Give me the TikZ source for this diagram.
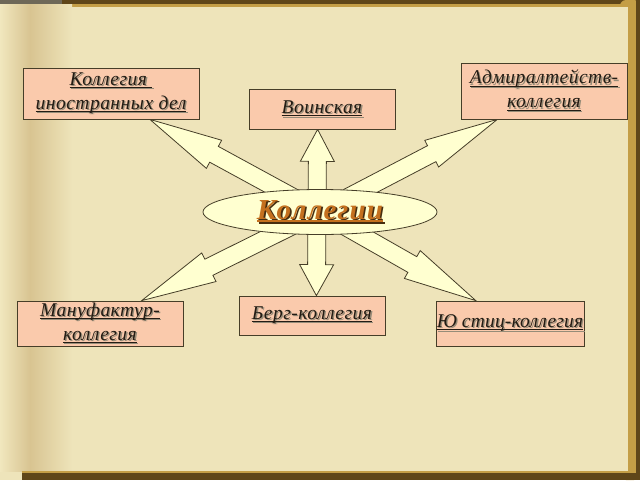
\documentclass[tikz,border=0pt]{standalone}
\usepackage{fontspec}
\setmainfont{Liberation Serif}
\newfontfamily\titlefont[LetterSpace=4]{Liberation Serif}
\newfontfamily\boxfont[LetterSpace=2.5]{Liberation Serif}
\newfontfamily\boxfontn[LetterSpace=1]{Liberation Serif}
\usetikzlibrary{calc,shapes.geometric}
\pgfdeclarelayer{bg}
\pgfdeclarelayer{arr}
\pgfsetlayers{bg,arr,main}
\definecolor{pagec}{RGB}{238,228,186}
\definecolor{leftc}{RGB}{241,231,190}
\definecolor{foldc}{RGB}{216,196,145}
\definecolor{boxc}{RGB}{250,202,172}
\definecolor{arrc}{RGB}{255,255,208}
\definecolor{linec}{RGB}{70,62,40}
\definecolor{txtc}{RGB}{35,28,20}
\definecolor{shc}{RGB}{150,140,120}
\definecolor{titc}{RGB}{196,112,30}
\definecolor{titsh}{RGB}{70,45,15}
\definecolor{darkb}{RGB}{95,70,25}
\definecolor{goldb}{RGB}{196,158,70}
\definecolor{grayb}{RGB}{110,104,88}
\newcommand{\ulx}[2][1pt]{\setbox0=\hbox{#2}\rlap{\rule[-3pt]{\wd0}{#1}}\box0}
\newcommand{\shd}[1]{\rlap{\kern1.3pt\raisebox{-1.3pt}{\color{shc}\ulx{#1}}}{\color{txtc}\ulx{#1}}}
\newcommand{\tshd}[1]{\rlap{\kern1.6pt\raisebox{-1.6pt}{\color{titsh}\ulx[1.8pt]{#1}}}{\color{titc}\ulx[1.8pt]{#1}}}
\newcommand{\barrow}[4]{%
  \coordinate (hb) at ($(#2)!#3!(#1)$);
  \draw[arrsty] ($(#1)!9pt!90:(#2)$) -- ($(hb)!9pt!90:(#2)$) -- ($(hb)!#4!90:(#2)$) -- (#2)
    -- ($(hb)!#4!-90:(#2)$) -- ($(hb)!9pt!-90:(#2)$) -- ($(#1)!9pt!-90:(#2)$) -- cycle;}
\tikzset{
  box/.style={draw=linec, fill=boxc, line width=0.8pt, inner sep=0pt, align=center,
    font=\boxfont\fontsize{19.5}{24}\selectfont\itshape},
  arrsty/.style={draw=linec, fill=arrc, line width=0.8pt, line join=miter},
}
\begin{document}
\begin{tikzpicture}[x=1pt,y=-1pt]
\useasboundingbox (0,0) rectangle (640,480);
\begin{pgfonlayer}{bg}
  \fill[pagec] (0,0) rectangle (640,480);
  \fill[grayb] (0,0) rectangle (62,4);
  \fill[darkb] (62,0) rectangle (640,4);
  \fill[goldb] (62,4) rectangle (628,7);
  \fill[goldb, rounded corners=6pt] (620,0) rectangle (640,480);
  \fill[darkb] (636,0) rectangle (640,480);
  \fill[pagec] (0,7) rectangle (628,471);
  \shade[left color=leftc, right color=foldc] (0,4) rectangle (30,471);
  \shade[left color=foldc, right color=pagec] (30,4) rectangle (72,471);
  \fill[goldb] (22,471) rectangle (630,473);
  \fill[darkb] (22,473) rectangle (636,480);
\end{pgfonlayer}

\node[box, minimum width=176pt, minimum height=51pt] (A) at (111,93.5) {\shd{Коллегия\ }\\\shd{иностранных дел}};
\node[box, minimum width=146pt, minimum height=40pt] (B) at (322,109) {\shd{Воинская}};
\node[box, minimum width=166pt, minimum height=56pt] (C) at (544,91) {\shd{Адмиралтейств-}\\\shd{коллегия}};
\node[box, minimum width=166pt, minimum height=45pt] (D) at (100,323.5) {\shd{Мануфактур-}\\\shd{коллегия}};
\node[box, minimum width=146pt, minimum height=39pt] (E) at (312,315.5) {\shd{Берг-коллегия}};
\node[box, minimum width=148pt, minimum height=45pt, font=\boxfontn\fontsize{19.5}{24}\selectfont\itshape]
  (F) at (510,323.5) {\shd{Ю стиц-коллегия}};

\node[ellipse, draw=linec, fill=arrc, line width=0.8pt, minimum width=234pt, minimum height=45pt, inner sep=0pt]
  (K) at (320,212) {\titlefont\fontsize{29}{32}\selectfont\bfseries\itshape\tshd{Коллегии}};

\coordinate (O) at (320,212);
\coordinate (Ov) at (317,212);
\coordinate (tA) at ($(A.south west)!0.72!(A.south east)$);
\coordinate (tB) at ($(B.south west)!0.47!(B.south east)$);
\coordinate (tC) at ($(C.south west)!0.22!(C.south east)$);
\coordinate (tD) at ($(D.north west)!0.75!(D.north east)$);
\coordinate (tE) at ($(E.north west)!0.53!(E.north east)$);
\coordinate (tF) at ($(F.north west)!0.27!(F.north east)$);

\begin{pgfonlayer}{arr}
  \barrow{O}{tA}{73pt}{16pt}
  \barrow{O}{tC}{74pt}{15pt}
  \barrow{O}{tD}{75pt}{16pt}
  \barrow{O}{tF}{73pt}{16pt}
  \barrow{Ov}{tB}{32pt}{17pt}
  \barrow{Ov}{tE}{31pt}{17pt}
\end{pgfonlayer}
\end{tikzpicture}
\end{document}
